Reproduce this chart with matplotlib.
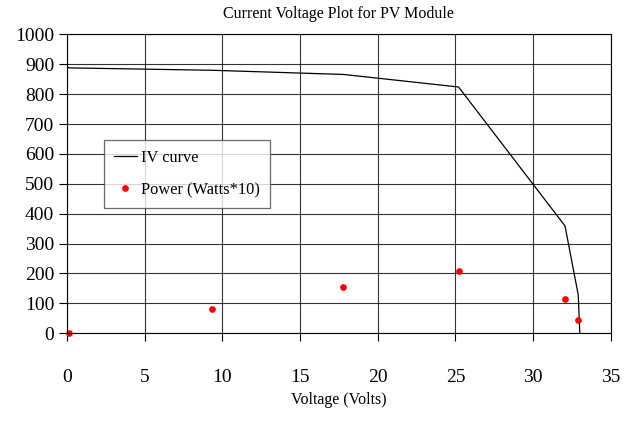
import matplotlib.pyplot as plt

# IV curve of the PV module (voltage in volts, current in mA)
volts = [0, 0.13, 9.33, 17.8, 25.2, 32.05, 32.9, 33.0]
current = [892, 888, 880, 866, 824, 359, 128, 0]

# power points (Watts*10)
p_volts = [0.13, 9.33, 17.8, 25.2, 32.05, 32.86]
power = [2, 82, 156, 207, 115, 43]

plt.rcParams['font.family'] = ['Liberation Serif', 'DejaVu Serif']

fig = plt.figure(figsize=(6.24, 4.30), dpi=100)
ax = fig.add_axes([0.107, 0.225, 0.872, 0.695])

ax.plot(volts, current, color='black', lw=0.9, label='IV curve')
ax.plot(p_volts, power, 'o', color='red', ms=3.8, ls='none',
        label='Power (Watts*10)', clip_on=False)

ax.set_xlim(0, 35)
ax.set_ylim(0, 1000)
ax.set_xticks(range(0, 36, 5))
ax.set_yticks(range(0, 1001, 100))
ax.grid(True, color='black', lw=0.8, alpha=0.8)
ax.set_axisbelow(True)
for s in ax.spines.values():
    s.set_linewidth(0.8)
ax.tick_params(axis='x', direction='out', length=6, pad=20, labelsize=14)
ax.tick_params(axis='y', direction='out', length=6, pad=3, labelsize=14)

ax.set_title('Current Voltage Plot for PV Module', fontsize=11.5, pad=12)
ax.set_xlabel('Voltage (Volts)', fontsize=11.5, labelpad=4)

leg = ax.legend(loc='upper left', bbox_to_anchor=(0.053, 0.675), fontsize=11.8,
                frameon=True, fancybox=False, edgecolor='#444444',
                handlelength=1.4, handletextpad=0.3, labelspacing=1.0,
                borderpad=0.6)
leg.get_frame().set_linewidth(0.9)

fig.savefig('out.png', dpi=100)
